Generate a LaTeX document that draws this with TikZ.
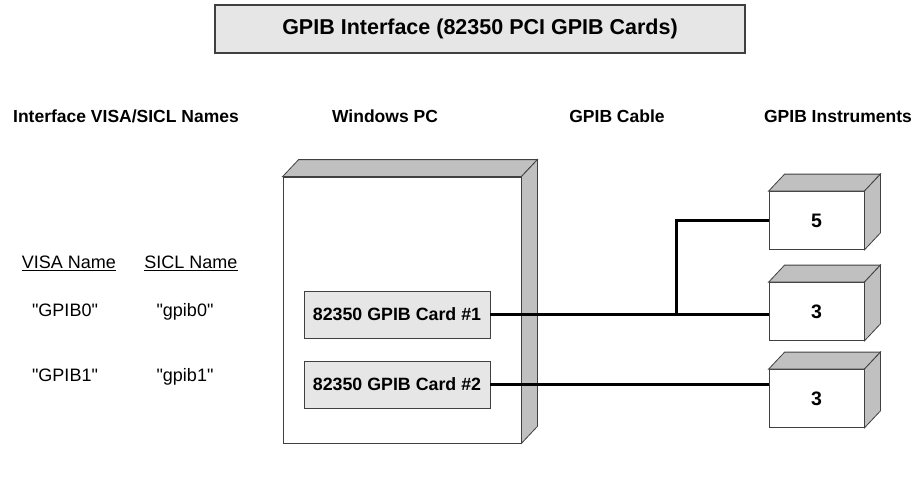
\documentclass[tikz,border=0pt]{standalone}
\usepackage{fontspec}
\setmainfont{Liberation Sans}
\usepackage{tikz}
\usetikzlibrary{calc}

\definecolor{facegray}{HTML}{C0C0C0}
\definecolor{cardgray}{HTML}{E6E6E6}
\definecolor{edgegray}{HTML}{404040}

% front face plus top and side faces of a box
\newcommand{\boxfaces}[1]{%
	\filldraw[facegray, draw=edgegray, line width=0.8pt]
		(#1.north west) -- ($(#1.north west)+(16,-17)$) -- ($(#1.north east)+(16,-17)$) -- (#1.north east) -- cycle;
	\filldraw[facegray, draw=edgegray, line width=0.8pt]
		(#1.north east) -- ($(#1.north east)+(16,-17)$) -- ($(#1.south east)+(16,-17)$) -- (#1.south east) -- cycle;
}
\newcommand{\qt}[1]{\textquotedbl#1\textquotedbl}

\begin{document}
\begin{tikzpicture}[x=1pt, y=-1pt,
	every node/.style={inner sep=0pt},
	heading/.style={font=\fontsize{17.5}{20}\selectfont\bfseries},
	plain/.style={font=\fontsize{18}{20}\selectfont, text height=13pt, text depth=4pt},
	cardbox/.style={draw=edgegray, fill=cardgray, line width=0.8pt, minimum width=186pt, minimum height=47pt, font=\fontsize{17.8}{20}\selectfont\bfseries},
	instbox/.style={draw=edgegray, fill=white, line width=0.8pt, minimum width=95pt, minimum height=58pt, font=\fontsize{19.5}{22}\selectfont\bfseries},
	cable/.style={line width=3pt, black}]
	\useasboundingbox (0,0) rectangle (918,480);

	\node[draw=edgegray, fill=cardgray, line width=1.5pt, minimum width=530pt, minimum height=48pt,
		font=\fontsize{21.5}{24}\selectfont\bfseries] (title) at (480,29) {GPIB Interface (82350 PCI GPIB Cards)};

	\foreach \x/\name/\txt in {126/hnames/{Interface VISA/SICL Names}, 385/hpc/Windows PC, 617/hcable/GPIB Cable, 838/hinst/GPIB Instruments}
		\node[heading] (\name) at (\x,116) {\txt};

	\node[plain] (visa) at (69,264) {\underline{VISA Name}};
	\node[plain] (sicl) at (191,264) {\underline{SICL Name}};
	\node[plain] (visa0) at (65,312) {\qt{GPIB0}};
	\node[plain] (sicl0) at (185,312) {\qt{gpib0}};
	\node[plain] (visa1) at (65,377) {\qt{GPIB1}};
	\node[plain] (sicl1) at (185,377) {\qt{gpib1}};

	% the PC
	\node[draw=edgegray, fill=white, line width=0.8pt, minimum width=238pt, minimum height=266pt] (pc) at (402,310) {};
	\boxfaces{pc}
	\node[cardbox] (card1) at (397,314.5) {82350 GPIB Card \#1};
	\node[cardbox] (card2) at (397,384.5) {82350 GPIB Card \#2};

	% instruments
	\foreach \y/\name/\addr in {220.5/inst1/5, 311.5/inst2/3, 398.5/inst3/3} {
		\node[instbox] (\name) at (816.5,\y) {\addr};
		\boxfaces{\name}
	}

	% cables
	\coordinate (tap) at (676,314.5);
	\draw[cable] (card1.east) -- (card1.east -| inst2.west);
	\draw[cable] (tap) |- (inst1.west);
	\draw[cable] (card2.east) -- (card2.east -| inst3.west);

\end{tikzpicture}
\end{document}
